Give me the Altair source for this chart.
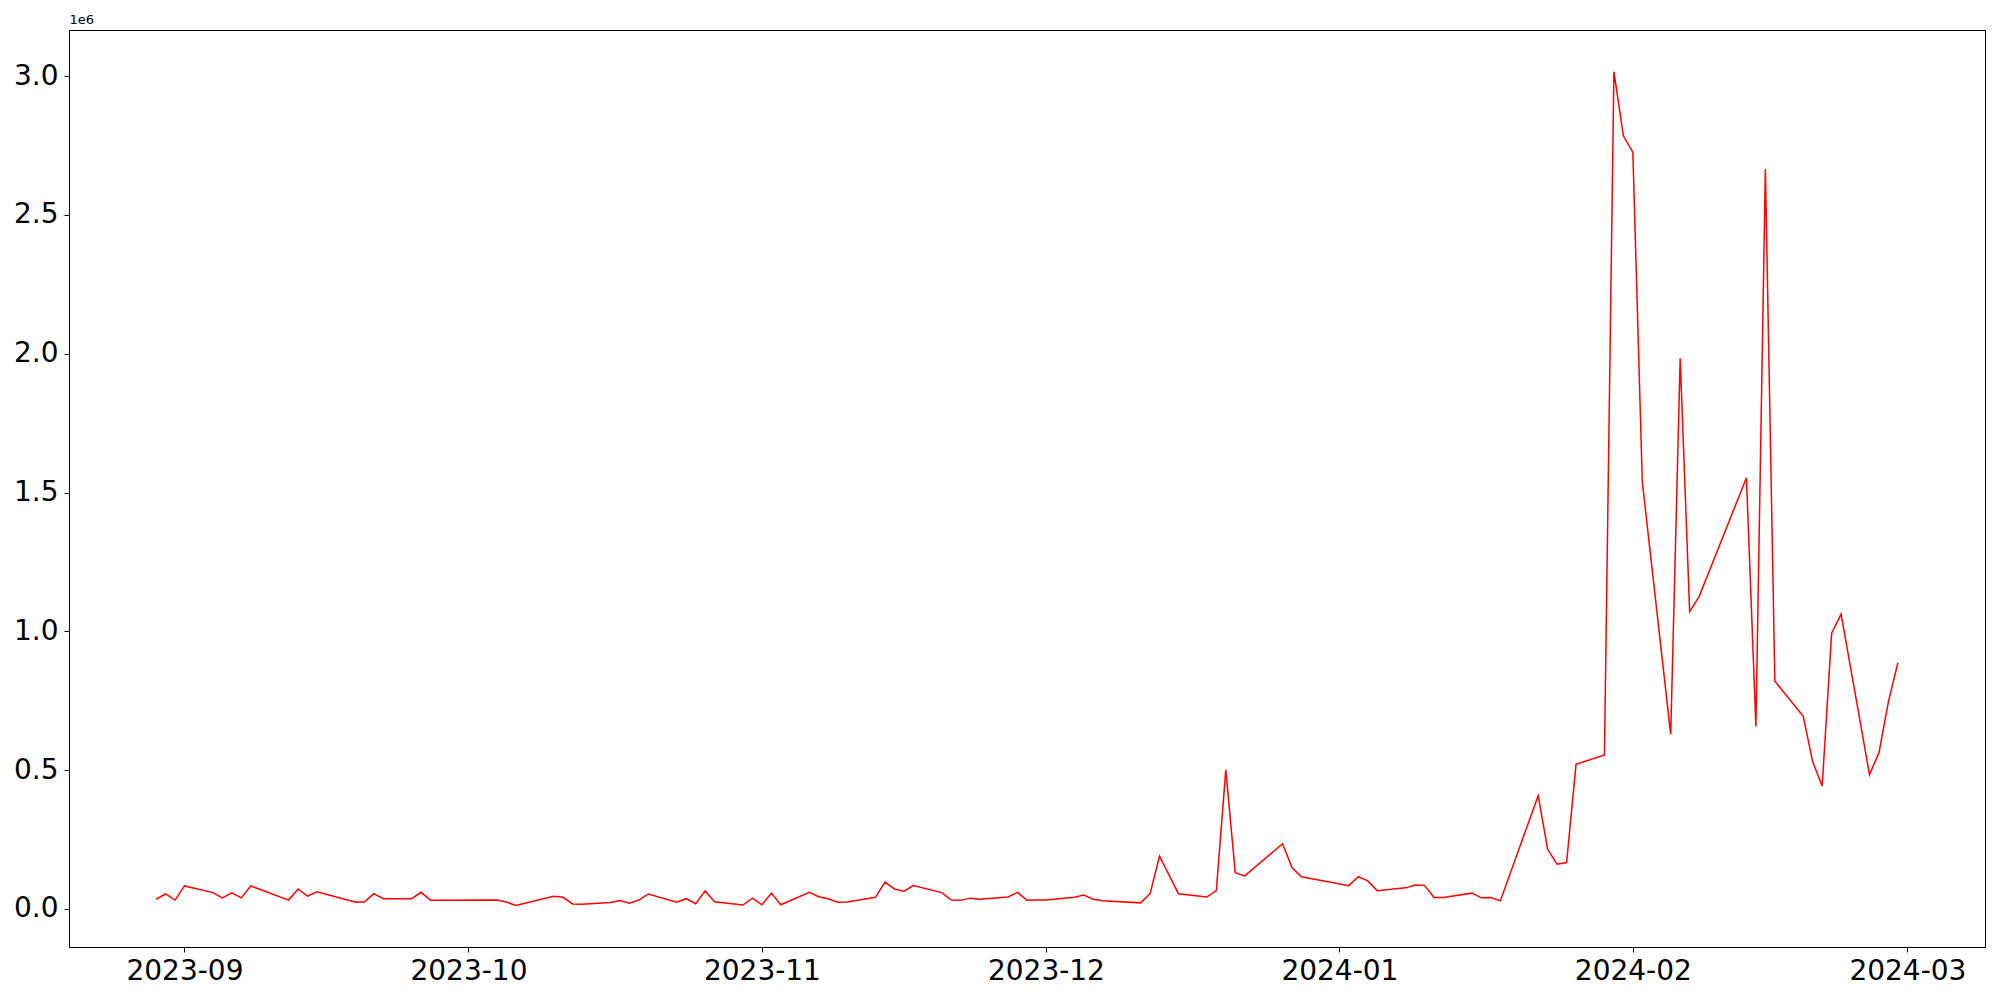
import altair as alt
import pandas as pd

dates = [
    "2023-08-29", "2023-08-30", "2023-08-31", "2023-09-01", "2023-09-04", "2023-09-05",
    "2023-09-06", "2023-09-07", "2023-09-08", "2023-09-12", "2023-09-13", "2023-09-14",
    "2023-09-15", "2023-09-19", "2023-09-20", "2023-09-21", "2023-09-22", "2023-09-25",
    "2023-09-26", "2023-09-27", "2023-10-04", "2023-10-05", "2023-10-06", "2023-10-10",
    "2023-10-11", "2023-10-12", "2023-10-13", "2023-10-16", "2023-10-17", "2023-10-18",
    "2023-10-19", "2023-10-20", "2023-10-23", "2023-10-24", "2023-10-25", "2023-10-26",
    "2023-10-27", "2023-10-30", "2023-10-31", "2023-11-01", "2023-11-02", "2023-11-03",
    "2023-11-06", "2023-11-07", "2023-11-08", "2023-11-09", "2023-11-10", "2023-11-13",
    "2023-11-14", "2023-11-15", "2023-11-16", "2023-11-17", "2023-11-20", "2023-11-21",
    "2023-11-22", "2023-11-23", "2023-11-24", "2023-11-27", "2023-11-28", "2023-11-29",
    "2023-11-30", "2023-12-01", "2023-12-04", "2023-12-05", "2023-12-06", "2023-12-07",
    "2023-12-11", "2023-12-12", "2023-12-13", "2023-12-15", "2023-12-18", "2023-12-19",
    "2023-12-20", "2023-12-21", "2023-12-22", "2023-12-26", "2023-12-27", "2023-12-28",
    "2024-01-02", "2024-01-03", "2024-01-04", "2024-01-05", "2024-01-08", "2024-01-09",
    "2024-01-10", "2024-01-11", "2024-01-12", "2024-01-15", "2024-01-16", "2024-01-17",
    "2024-01-18", "2024-01-22", "2024-01-23", "2024-01-24", "2024-01-25", "2024-01-26",
    "2024-01-29", "2024-01-30", "2024-01-31", "2024-02-01", "2024-02-02", "2024-02-05",
    "2024-02-06", "2024-02-07", "2024-02-08", "2024-02-13", "2024-02-14", "2024-02-15",
    "2024-02-16", "2024-02-19", "2024-02-20", "2024-02-21", "2024-02-22", "2024-02-23",
    "2024-02-26", "2024-02-27", "2024-02-28", "2024-02-29",
]

values = [
    35000, 54000, 32000, 83000, 59000, 40000,
    58000, 40000, 83000, 32000, 72000, 46000,
    62000, 25000, 25000, 55000, 37000, 37000,
    60000, 31000, 32000, 25000, 13000, 46000,
    42000, 18000, 17000, 23000, 30000, 21000,
    32000, 54000, 24000, 37000, 19000, 65000,
    26000, 14000, 39000, 15000, 57000, 15000,
    60000, 44000, 37000, 24000, 25000, 42000,
    97000, 72000, 64000, 84000, 59000, 32000,
    31000, 39000, 35000, 43000, 60000, 31000,
    32000, 32000, 42000, 50000, 35000, 30000,
    22000, 55000, 190000, 55000, 43000, 66000,
    501000, 131000, 119000, 235000, 148000, 116000,
    84000, 116000, 101000, 66000, 76000, 86000,
    85000, 41000, 41000, 57000, 40000, 41000,
    29000, 408000, 215000, 161000, 167000, 521000,
    555000, 3016000, 2785000, 2726000, 1538000, 629000,
    1984000, 1071000, 1125000, 1553000, 657000, 2665000,
    821000, 694000, 530000, 443000, 993000, 1062000,
    484000, 563000, 747000, 887000,
]

y_ticks = [0, 500000, 1000000, 1500000, 2000000, 2500000, 3000000]
x_tick_months = [(2023, 9), (2023, 10), (2023, 11), (2023, 12), (2024, 1), (2024, 2), (2024, 3)]

df = pd.DataFrame({"date": [d + "T00:00:00" for d in dates], "value": values})

FONT = "DejaVu Sans"

x_scale = alt.Scale(
    domain=[
        alt.DateTime(year=2023, month=8, date=19, hours=19, minutes=12),
        alt.DateTime(year=2024, month=3, date=9, hours=4, minutes=48),
    ],
    nice=False,
)
y_scale = alt.Scale(domain=[-137000, 3166000], nice=False, zero=False)

x_axis = alt.Axis(
    values=[alt.DateTime(year=y, month=m, date=1) for y, m in x_tick_months],
    format="%Y-%m",
    labelFontSize=28,
    labelFont=FONT,
    labelColor="black",
    labelPadding=5,
    labelFlush=False,
    tickSize=5,
    tickColor="black",
    tickWidth=1,
    domainColor="black",
    grid=False,
    title=None,
)

y_axis = alt.Axis(
    values=y_ticks,
    labelExpr="format(datum.value / 1000000, '.1f')",
    labelFontSize=28,
    labelFont=FONT,
    labelColor="black",
    labelPadding=6,
    labelFlush=False,
    tickSize=5,
    tickColor="black",
    tickWidth=1,
    domainColor="black",
    grid=False,
    title="1e6",
    titleAngle=0,
    titleX=0,
    titleY=-4,
    titleAlign="left",
    titleBaseline="bottom",
    titleFont=FONT,
    titleFontSize=13,
    titleFontWeight="normal",
    titleColor="black",
)

line = (
    alt.Chart(df)
    .mark_line(color="red", strokeWidth=1.5)
    .encode(
        x=alt.X("date:T", axis=x_axis, scale=x_scale),
        y=alt.Y("value:Q", axis=y_axis, scale=y_scale),
    )
)

frame = (
    alt.Chart(df)
    .mark_line(strokeOpacity=0)
    .encode(
        x=alt.X(
            "date:T",
            scale=x_scale,
            axis=alt.Axis(orient="top", labels=False, ticks=False, grid=False,
                          domainColor="black", title=None),
        ),
        y=alt.Y(
            "value:Q",
            scale=y_scale,
            axis=alt.Axis(orient="right", labels=False, ticks=False, grid=False,
                          domainColor="black", title=None),
        ),
    )
)

chart = (
    alt.layer(line, frame)
    .resolve_axis(x="independent", y="independent")
    .properties(
        width=1916,
        height=917,
        autosize=alt.AutoSizeParams(type="none"),
        padding={"left": 61, "top": 22, "right": 6, "bottom": 45},
    )
    .configure_view(stroke=None)
    .configure(background="white")
)

chart.save("out.html", embed_options={"renderer": "svg", "actions": False})
